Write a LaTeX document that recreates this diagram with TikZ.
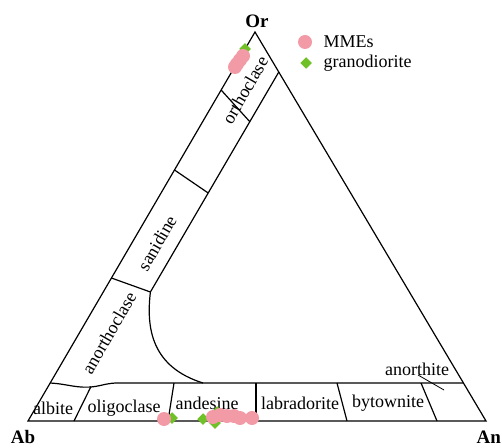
\documentclass[tikz,border=0pt]{standalone}
\usepackage{fontspec}
\setmainfont{Liberation Serif}
\usepackage{tikz}
\usetikzlibrary{shapes.geometric}

\definecolor{mmepink}{RGB}{242,154,166}
\definecolor{granogreen}{RGB}{112,192,40}

\tikzset{
    field/.style={font=\fontsize{18}{20}\selectfont, inner sep=0pt},
    apex/.style={font=\fontsize{19}{21}\selectfont\bfseries, inner sep=0pt},
    mme/.style={circle, fill=mmepink, inner sep=0pt, minimum size=14pt},
    grano/.style={diamond, fill=granogreen, inner sep=0pt, minimum size=12pt}
}

\begin{document}
\begin{tikzpicture}[x=1pt, y=1pt, line width=1.2pt]
    \useasboundingbox (0,0) rectangle (502,447);

    % ternary frame
    \draw (28,26) -- (486,26) -- (255,415) -- cycle;
    \node[apex] (Or) at (257,426) {Or};
    \node[apex] (Ab) at (23,10) {Ab};
    \node[apex, anchor=west] (An) at (476,10) {An};

    % alkali feldspar band
    \draw (278.8,375) -- (150.4,155) .. controls (146,118) and (152,80) .. (203,64);
    \draw (221.1,357) -- (249.8,325.3);
    \draw (174.5,277) -- (208.2,254);
    \draw (111.4,169) -- (150.4,155);
    \node[field, rotate=60] (orthoclase) at (245,357) {orthoclase};
    \node[field, rotate=60] (sanidine) at (157,204) {sanidine};
    \node[field, rotate=60] (anorthoclase) at (109,114) {anorthoclase};

    % plagioclase band
    \draw (50.2,64) .. controls (68,63) and (78,58) .. (95,60.5)
        .. controls (104,62) and (108,64) .. (118,64) -- (463.4,64);
    \draw (74,26) -- (91,60.5);
    \draw (168,26) -- (174,64);
    \draw (256,26) -- (256,64);
    \draw (347,26) -- (337,64);
    \draw (437,26) -- (421,64);
    \draw[line width=0.8pt] (418,72) -- (444,57);
    \node[field] (albite) at (53,39) {albite};
    \node[field] (oligoclase) at (124,39) {oligoclase};
    \node[field] (andesine) at (207,44) {andesine};
    \node[field] (labradorite) at (300,44) {labradorite};
    \node[field] (bytownite) at (388,44) {bytownite};
    \node[field] (anorthite) at (417,78) {anorthite};

    % samples
    \node[grano] (g1) at (245,398) {};
    \node[grano] (g2) at (172,29) {};
    \node[grano] (g3) at (203,28) {};
    \node[grano] (g4) at (217,35) {};
    \node[grano] (g5) at (215,24) {};
    \foreach \px/\py [count=\i] in {243/391, 240/387, 237/383, 235/380,
        164/28, 213/30, 220/32, 227/31, 234/31, 240/29, 252/29}
        \node[mme] (m\i) at (\px,\py) {};

    % legend
    \node[mme] (keyMME) at (305,405) {};
    \node[field, anchor=west] (labMME) at (323,405) {MMEs};
    \node[grano] (keyGrano) at (306,384) {};
    \node[field, anchor=west] (labGrano) at (323,384) {granodiorite};
\end{tikzpicture}
\end{document}
